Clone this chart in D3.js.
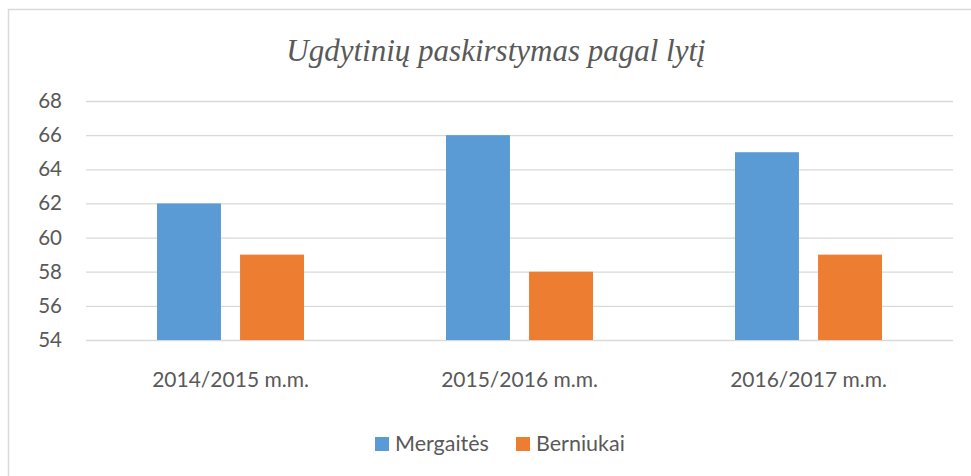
<!DOCTYPE html>
<html><head><meta charset="utf-8">
<script src="https://cdn.jsdelivr.net/npm/d3@7"></script>
<style>body{margin:0;background:#fff}svg{display:block}</style>
</head><body>
<script>
const categories = ["2014/2015 m.m.", "2015/2016 m.m.", "2016/2017 m.m."];
const seriesNames = ["Mergaitės", "Berniukai"];
const mergaites = [62, 66, 65];
const berniukai = [59, 58, 59];
const yTicks = [54, 56, 58, 60, 62, 64, 66, 68];
const colors = ["#5b9bd5", "#ed7d31"];
const title = "Ugdytinių paskirstymas pagal lytį";

const W = 971, H = 476;
const svg = d3.select("body").append("svg").attr("width", W).attr("height", H);
svg.append("rect").attr("x", 8.5).attr("y", 9.5).attr("width", 980).attr("height", 480)
  .attr("fill", "#fff").attr("stroke", "#d9d9d9").attr("stroke-width", 1.5);

const x = d3.scaleBand().domain(categories).range([86, 953]);
const x1 = d3.scaleBand().domain(seriesNames).range([0, 147]).paddingInner(0.23);
const y = d3.scaleLinear().domain([54, 68]).range([340, 101]);

svg.append("text").attr("x", 496).attr("y", 61).attr("text-anchor", "middle")
  .attr("font-family", "Liberation Serif, serif").attr("font-style", "italic")
  .attr("font-size", 31).attr("fill", "#595959").text(title);

const gy = svg.append("g").attr("transform", "translate(86,0)")
  .call(d3.axisLeft(y).tickValues(yTicks).tickSize(-867).tickPadding(24));
gy.select(".domain").remove();
gy.selectAll(".tick line").attr("stroke", "#d9d9d9").attr("stroke-width", 1.3);
gy.selectAll(".tick text").attr("font-family", "Lato, sans-serif").attr("font-size", 20.5)
  .attr("fill", "#595959");

const series = [mergaites, berniukai];
categories.forEach((c, i) => {
  const cx = x(c) + x.bandwidth() / 2 - 147 / 2;
  seriesNames.forEach((s, j) => {
    svg.append("rect").attr("x", cx + x1(s)).attr("width", x1.bandwidth())
      .attr("y", y(series[j][i])).attr("height", y(54) - y(series[j][i]))
      .attr("fill", colors[j]);
  });
});

const gx = svg.append("g").attr("transform", "translate(0,340)")
  .call(d3.axisBottom(x).tickSize(0).tickPadding(32));
gx.select(".domain").remove();
gx.selectAll(".tick text").attr("font-family", "Lato, sans-serif").attr("font-size", 21)
  .attr("fill", "#595959");

const legX = [375, 516];
seriesNames.forEach((s, j) => {
  svg.append("rect").attr("x", legX[j]).attr("y", 437).attr("width", 14).attr("height", 14)
    .attr("fill", colors[j]);
  svg.append("text").attr("x", legX[j] + 20).attr("y", 451)
    .attr("font-family", "Lato, sans-serif").attr("font-size", 21.5).attr("fill", "#595959").text(s);
});
</script>
</body></html>
